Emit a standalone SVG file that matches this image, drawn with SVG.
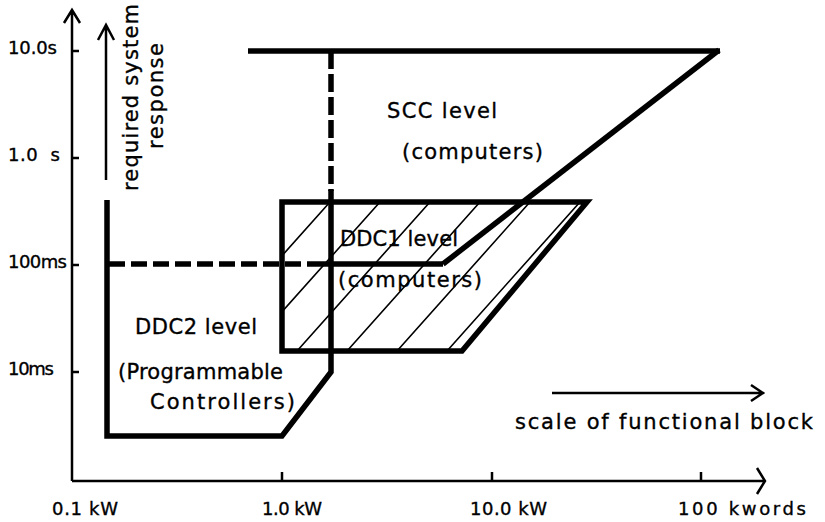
<svg xmlns="http://www.w3.org/2000/svg" width="825" height="522" viewBox="0 0 825 522">
<style>
.ax{stroke:#000;stroke-width:2.5;fill:none}
.thk{stroke:#000;stroke-width:5.5;fill:none}
.dsh{stroke-dasharray:16 6}
.dshv{stroke-dasharray:18 5}
.hat{stroke:#000;stroke-width:1.6}
text{font-family:"DejaVu Sans","Liberation Sans",sans-serif;font-size:21px;fill:#000;stroke:#000;stroke-width:0.35}
text.al{font-size:18px}
</style>
<defs>
<clipPath id="boxclip"><polygon points="282,202 587,202 462,351 282,351"/></clipPath>
</defs>
<rect width="825" height="522" fill="#fff"/>

<g id="axes">
<path class="ax" d="M72,481 V10 M64,23 L72,10 L80,23"/>
<path class="ax" d="M72,481 H765 M757,468 L765,481 L757,494"/>
<path class="ax" d="M72,51 H79 M72,158 H79 M72,265 H79 M72,372 H79"/>
<path class="ax" d="M282,481 V472 M492,481 V472 M701,481 V472"/>
<text class="al" x="8" y="54" textLength="49">10.0s</text>
<text class="al" x="8" y="161" textLength="52" xml:space="preserve">1.0  s</text>
<text class="al" x="8" y="268" textLength="59">100ms</text>
<text class="al" x="8" y="375" textLength="46">10ms</text>
<text class="al" x="52" y="515" textLength="66">0.1 kW</text>
<text class="al" x="262" y="515" textLength="60">1.0 kW</text>
<text class="al" x="470" y="515" textLength="77">10.0 kW</text>
<text class="al" x="678" y="515" textLength="128">100 kwords</text>
</g>

<g id="response-arrow">
<path class="ax" d="M106,180 V25 M98,40 L106,25 L114,40"/>
<text transform="translate(138,191) rotate(-90)" textLength="187">required system</text>
<text transform="translate(163,149) rotate(-90)" textLength="106">response</text>
</g>

<g id="scale-arrow">
<path class="ax" d="M552,393 H763 M751,385 L763,393 L751,401"/>
<text x="515" y="429" textLength="298">scale of functional block</text>
</g>

<g id="ddc1">
<g clip-path="url(#boxclip)">
<path class="hat" d="M330,202 L197,351 M380,202 L247,351 M430,202 L297,351 M480,202 L347,351 M530,202 L397,351 M580,202 L447,351"/>
</g>
<polygon class="thk" points="282,202 587,202 462,351 282,351"/>
<text x="340" y="246" textLength="118">DDC1 level</text>
<text x="338" y="287" textLength="144">(computers)</text>
</g>

<g id="scc">
<text x="387" y="118" textLength="110">SCC level</text>
<text x="402" y="159" textLength="141">(computers)</text>
</g>

<g id="ddc2">
<text x="135" y="334" textLength="122">DDC2 level</text>
<text x="118" y="379" textLength="165">(Programmable</text>
<text x="150" y="409" textLength="145">Controllers)</text>
</g>

<g id="connectors">
<polyline class="thk" points="107,200 107,436 282,436 331,372 331,190"/>
<line class="thk dshv" x1="331" y1="51" x2="331" y2="191"/>
<line class="thk" x1="248" y1="51" x2="720" y2="51"/>
<line class="thk" x1="719" y1="50" x2="443" y2="264"/>
<line class="thk" x1="443" y1="264" x2="316" y2="264"/>
<line class="thk dsh" x1="109" y1="264" x2="316" y2="264"/>
</g>
</svg>
